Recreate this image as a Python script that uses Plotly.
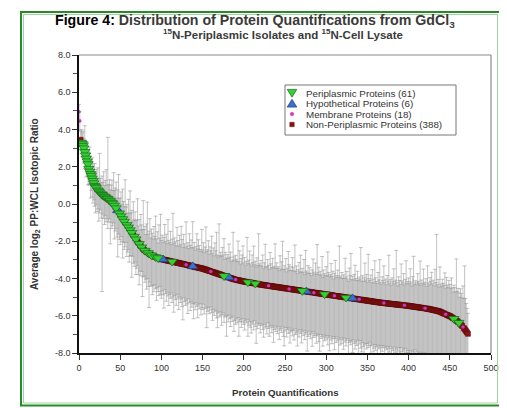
import plotly.graph_objects as go

# Average log2 PP:WCL ratio for each protein quantification, sorted descending (index = x)
ratio = [
    4.95, 4.45, 3.45, 3.30, 3.22, 3.12, 3.00, 2.80, 2.62, 2.45,
    2.30, 2.15, 1.90, 1.75, 1.62, 1.52, 1.38, 1.25, 1.12, 0.98,
    0.92, 0.86, 0.80, 0.74, 0.68, 0.62, 0.58, 0.54, 0.50, 0.46,
    0.43, 0.40, 0.37, 0.34, 0.31, 0.28, 0.24, 0.20, 0.16, 0.12,
    0.08, 0.03, -0.02, -0.08, -0.15, -0.22, -0.28, -0.34, -0.42, -0.50,
    -0.58, -0.65, -0.72, -0.80, -0.87, -0.94, -1.00, -1.06, -1.12, -1.18,
    -1.25, -1.32, -1.40, -1.47, -1.54, -1.61, -1.68, -1.75, -1.82, -1.89,
    -1.95, -2.02, -2.08, -2.14, -2.20, -2.26, -2.32, -2.37, -2.42, -2.47,
    -2.50, -2.54, -2.57, -2.60, -2.63, -2.66, -2.69, -2.72, -2.75, -2.77,
    -2.79, -2.81, -2.83, -2.85, -2.87, -2.89, -2.90, -2.92, -2.93, -2.95,
    -2.96, -2.97, -2.98, -2.99, -3.00, -3.01, -3.02, -3.03, -3.04, -3.05,
    -3.06, -3.07, -3.08, -3.09, -3.10, -3.11, -3.12, -3.13, -3.14, -3.15,
    -3.16, -3.17, -3.18, -3.19, -3.20, -3.21, -3.22, -3.23, -3.24, -3.25,
    -3.26, -3.27, -3.28, -3.29, -3.30, -3.32, -3.33, -3.34, -3.35, -3.36,
    -3.37, -3.38, -3.39, -3.40, -3.41, -3.42, -3.43, -3.44, -3.45, -3.46,
    -3.47, -3.48, -3.50, -3.51, -3.53, -3.54, -3.56, -3.57, -3.59, -3.60,
    -3.62, -3.63, -3.65, -3.66, -3.68, -3.69, -3.71, -3.72, -3.74, -3.75,
    -3.77, -3.78, -3.80, -3.81, -3.83, -3.84, -3.86, -3.87, -3.89, -3.90,
    -3.92, -3.93, -3.95, -3.96, -3.98, -3.99, -4.01, -4.02, -4.04, -4.05,
    -4.06, -4.07, -4.08, -4.09, -4.10, -4.11, -4.12, -4.13, -4.14, -4.15,
    -4.16, -4.17, -4.18, -4.18, -4.19, -4.20, -4.21, -4.22, -4.22, -4.23,
    -4.24, -4.25, -4.26, -4.26, -4.27, -4.28, -4.29, -4.30, -4.30, -4.31,
    -4.32, -4.33, -4.34, -4.34, -4.35, -4.36, -4.36, -4.37, -4.38, -4.38,
    -4.39, -4.40, -4.40, -4.41, -4.42, -4.42, -4.43, -4.44, -4.44, -4.45,
    -4.46, -4.46, -4.47, -4.48, -4.48, -4.49, -4.50, -4.50, -4.51, -4.52,
    -4.52, -4.53, -4.54, -4.54, -4.55, -4.56, -4.56, -4.57, -4.58, -4.58,
    -4.59, -4.60, -4.60, -4.61, -4.62, -4.62, -4.63, -4.64, -4.64, -4.65,
    -4.66, -4.66, -4.67, -4.68, -4.68, -4.69, -4.70, -4.70, -4.71, -4.72,
    -4.72, -4.73, -4.74, -4.74, -4.75, -4.76, -4.76, -4.77, -4.78, -4.78,
    -4.79, -4.80, -4.80, -4.81, -4.82, -4.82, -4.83, -4.84, -4.84, -4.85,
    -4.86, -4.86, -4.87, -4.88, -4.88, -4.89, -4.90, -4.90, -4.91, -4.92,
    -4.92, -4.93, -4.94, -4.94, -4.95, -4.96, -4.96, -4.97, -4.98, -4.98,
    -4.99, -5.00, -5.00, -5.01, -5.02, -5.02, -5.03, -5.04, -5.04, -5.05,
    -5.06, -5.06, -5.07, -5.08, -5.08, -5.09, -5.10, -5.10, -5.11, -5.12,
    -5.12, -5.13, -5.14, -5.14, -5.15, -5.16, -5.16, -5.17, -5.18, -5.18,
    -5.19, -5.20, -5.20, -5.21, -5.22, -5.22, -5.23, -5.24, -5.24, -5.25,
    -5.26, -5.26, -5.27, -5.28, -5.28, -5.29, -5.30, -5.30, -5.31, -5.31,
    -5.32, -5.32, -5.33, -5.33, -5.34, -5.34, -5.35, -5.35, -5.36, -5.36,
    -5.37, -5.37, -5.38, -5.38, -5.39, -5.39, -5.40, -5.40, -5.41, -5.41,
    -5.42, -5.42, -5.43, -5.43, -5.44, -5.44, -5.45, -5.45, -5.46, -5.46,
    -5.47, -5.48, -5.48, -5.49, -5.50, -5.50, -5.51, -5.52, -5.52, -5.53,
    -5.54, -5.54, -5.55, -5.56, -5.56, -5.57, -5.58, -5.58, -5.59, -5.60,
    -5.60, -5.61, -5.62, -5.62, -5.63, -5.64, -5.65, -5.66, -5.67, -5.68,
    -5.69, -5.70, -5.71, -5.72, -5.73, -5.74, -5.75, -5.76, -5.78, -5.80,
    -5.82, -5.84, -5.86, -5.88, -5.90, -5.92, -5.94, -5.96, -5.98, -6.00,
    -6.02, -6.04, -6.07, -6.10, -6.13, -6.16, -6.19, -6.22, -6.25, -6.29,
    -6.33, -6.37, -6.41, -6.45, -6.50, -6.55, -6.60, -6.66, -6.72, -6.78,
    -6.84, -6.90, -6.97,
]

# Upper error-bar lengths (one per quantification, same order)
err_plus = [
    0.40, 0.50, 0.45, 0.70, 0.60, 0.80, 0.50, 1.40, 0.70, 0.90,
    1.00, 0.60, 0.80, 1.30, 0.70, 0.50, 1.10, 0.90, 0.60, 1.20,
    0.80, 1.00, 0.55, 1.20, 0.70, 2.10, 0.80, 0.60, 1.00, 0.70,
    1.30, 0.60, 0.90, 1.50, 0.70, 3.30, 0.80, 1.10, 0.60, 0.90,
    1.20, 0.70, 1.70, 0.80, 1.00, 1.40, 0.60, 1.10, 2.00, 0.80,
    0.90, 1.30, 0.70, 1.60, 1.00, 0.80, 2.30, 0.90, 1.10, 0.70,
    1.50, 0.80, 2.10, 1.00, 1.20, 0.70, 1.80, 0.90, 1.40, 1.00,
    1.10, 2.30, 0.90, 1.30, 0.80, 1.70, 1.20, 1.00, 2.60, 1.10,
    1.30, 0.90, 1.50, 2.70, 1.00, 1.20, 1.90, 0.90, 1.40, 1.20,
    0.90, 1.60, 1.10, 2.20, 1.00, 1.40, 0.80, 1.80, 1.10, 2.40,
    1.00, 1.30, 0.90, 1.20, 1.90, 1.00, 1.40, 0.90, 2.20, 1.10,
    1.00, 1.60, 0.90, 1.20, 2.60, 1.00, 1.30, 1.10, 0.90, 1.90,
    1.20, 0.90, 1.50, 1.00, 2.00, 1.30, 0.90, 1.60, 1.10, 0.90,
    2.30, 1.00, 1.20, 0.90, 1.70, 1.10, 1.40, 1.00, 2.40, 1.00,
    1.30, 0.90, 1.10, 1.80, 1.00, 1.50, 1.20, 1.00, 0.90, 2.10,
    1.00, 1.40, 0.90, 1.20, 2.30, 1.00, 1.10, 1.60, 0.90, 1.30,
    1.10, 1.90, 1.00, 1.30, 0.90, 1.60, 1.20, 2.20, 1.00, 0.90,
    2.70, 1.00, 1.20, 1.00, 1.50, 1.10, 2.00, 0.90, 1.30, 1.00,
    1.20, 1.00, 1.80, 1.10, 1.40, 0.90, 1.00, 2.50, 1.20, 1.00,
    1.30, 1.10, 1.00, 2.10, 1.00, 1.60, 0.90, 1.20, 1.40, 1.90,
    1.00, 1.30, 0.90, 1.10, 2.40, 1.00, 1.20, 1.70, 1.00, 0.90,
    1.50, 1.10, 2.00, 1.00, 1.20, 0.90, 1.40, 1.00, 2.70, 1.10,
    1.00, 1.30, 1.00, 1.60, 0.90, 1.20, 2.20, 1.00, 1.00, 1.40,
    1.10, 0.90, 1.80, 1.20, 1.00, 1.50, 1.00, 1.10, 2.30, 1.00,
    1.30, 1.00, 1.10, 0.90, 1.70, 1.00, 1.40, 2.50, 1.00, 1.20,
    1.00, 1.60, 0.90, 1.10, 2.00, 1.30, 1.00, 1.20, 1.00, 1.70,
    1.20, 1.00, 2.40, 1.00, 1.30, 0.90, 1.10, 1.50, 1.00, 1.90,
    1.00, 1.20, 1.00, 1.70, 0.90, 2.20, 1.10, 1.00, 1.40, 1.00,
    1.30, 1.00, 0.90, 1.20, 1.80, 1.10, 1.00, 1.60, 1.00, 2.60,
    1.10, 1.40, 1.00, 1.20, 1.00, 2.00, 0.90, 1.30, 1.10, 1.00,
    1.50, 1.00, 2.30, 1.20, 1.00, 1.10, 1.70, 1.00, 1.30, 0.90,
    1.20, 1.90, 1.00, 1.10, 1.40, 1.00, 2.70, 1.10, 1.00, 1.30,
    1.00, 1.20, 1.00, 2.10, 1.10, 1.40, 1.00, 0.90, 1.60, 1.20,
    2.40, 1.00, 1.20, 1.00, 1.30, 1.80, 1.10, 1.00, 1.50, 1.00,
    1.20, 1.10, 2.80, 1.00, 1.30, 1.00, 1.20, 2.00, 1.10, 1.40,
    1.00, 2.50, 1.20, 1.10, 1.40, 1.00, 1.70, 1.20, 1.00, 2.20,
    1.30, 1.10, 1.00, 1.60, 1.20, 2.30, 1.10, 1.00, 1.40, 1.20,
    2.00, 1.10, 1.30, 1.00, 1.50, 1.20, 2.60, 1.10, 1.30, 1.00,
    1.40, 1.20, 1.90, 1.10, 1.30, 2.90, 1.20, 1.00, 1.50, 1.30,
    1.10, 2.20, 1.30, 1.20, 1.70, 1.10, 1.40, 2.40, 1.20, 1.30,
    1.50, 1.20, 2.00, 1.30, 1.10, 1.60, 2.70, 1.20, 1.40, 1.30,
    1.20, 1.80, 1.40, 1.30, 2.50, 1.20, 1.50, 1.30, 2.10, 1.40,
    1.30, 1.60, 1.20, 2.30, 1.40, 1.30, 1.70, 1.50, 2.00, 1.40,
    1.60, 1.30, 2.20, 1.50, 4.10, 1.40, 1.70, 1.30, 2.40, 1.50,
    1.40, 1.80, 1.60, 1.50, 2.20, 1.40, 2.00, 1.60, 1.50, 1.90,
    1.70, 1.50, 2.10, 1.60, 1.40, 1.80, 1.70, 1.50, 3.30, 1.60,
    1.80, 1.60, 1.40, 1.90, 1.70, 1.50, 2.20, 1.60, 3.40, 1.70,
    1.50, 1.30, 1.10,
]

# Lower error-bar lengths (one per quantification, same order)
err_minus = [
    0.40, 0.50, 0.50, 0.60, 0.70, 0.60, 0.80, 0.90, 0.70, 1.00,
    0.80, 1.10, 0.90, 0.70, 1.30, 0.80, 1.00, 1.20, 0.90, 1.10,
    1.40, 0.90, 1.20, 1.00, 1.60, 1.10, 0.90, 1.30, 5.20, 1.00,
    1.20, 1.50, 1.00, 1.30, 1.10, 1.60, 1.20, 1.00, 2.30, 1.10,
    1.40, 1.20, 1.00, 1.80, 1.30, 1.10, 1.50, 2.50, 1.20, 1.40,
    1.60, 1.10, 1.30, 2.10, 1.20, 1.50, 1.30, 1.00, 1.70, 1.40,
    1.20, 1.80, 1.40, 1.30, 2.40, 1.20, 1.50, 1.60, 1.30, 1.90,
    1.50, 1.30, 1.70, 2.20, 1.40, 1.60, 1.30, 2.60, 1.50, 1.40,
    1.70, 1.50, 2.00, 1.40, 1.80, 2.90, 1.50, 1.70, 1.60, 2.10,
    1.60, 1.90, 1.50, 1.70, 2.30, 1.60, 1.80, 2.00, 1.50, 1.90,
    2.10, 1.70, 1.90, 2.60, 1.60, 1.80, 2.20, 1.70, 1.90, 2.40,
    1.80, 2.00, 1.70, 2.20, 1.90, 2.70, 1.80, 2.00, 2.30, 1.70,
    1.90, 2.50, 1.80, 2.10, 1.90, 2.30, 3.00, 1.80, 2.00, 2.20,
    1.90, 2.10, 2.60, 1.80, 2.00, 2.40, 1.90, 2.20, 2.00, 2.80,
    2.00, 2.30, 1.90, 2.10, 2.70, 2.00, 2.20, 1.90, 2.50, 2.10,
    2.20, 1.90, 2.40, 2.10, 2.00, 3.10, 2.20, 2.00, 2.30, 2.10,
    1.90, 2.20, 2.60, 2.00, 2.30, 2.10, 2.00, 2.40, 2.90, 2.10,
    2.30, 2.00, 2.20, 2.70, 2.10, 2.00, 2.50, 2.20, 2.10, 3.20,
    2.10, 2.40, 2.00, 2.20, 2.60, 2.10, 2.30, 2.00, 2.80, 2.20,
    2.40, 2.10, 2.30, 2.00, 3.00, 2.20, 2.10, 2.50, 2.20, 2.00,
    2.30, 2.60, 2.10, 2.20, 2.00, 2.90, 2.30, 2.10, 2.40, 2.70,
    2.10, 2.20, 2.50, 2.00, 2.30, 3.20, 2.10, 2.40, 2.20, 2.10,
    2.60, 2.20, 2.10, 2.40, 2.80, 2.10, 2.30, 2.20, 2.60, 2.00,
    2.30, 2.70, 2.20, 2.10, 2.50, 2.20, 3.00, 2.30, 2.10, 2.40,
    2.20, 2.50, 2.10, 2.80, 2.30, 2.20, 2.40, 2.10, 2.60, 3.10,
    2.30, 2.10, 2.60, 2.20, 2.40, 2.10, 2.90, 2.30, 2.20, 2.50,
    2.20, 2.70, 2.10, 2.40, 2.30, 3.00, 2.20, 2.50, 2.10, 2.30,
    2.80, 2.20, 2.40, 2.10, 2.60, 2.30, 2.20, 3.20, 2.40, 2.10,
    2.30, 2.50, 2.20, 2.90, 2.10, 2.40, 2.30, 2.20, 2.70, 2.30,
    2.20, 2.60, 3.10, 2.20, 2.40, 2.30, 2.80, 2.20, 2.50, 2.30,
    2.40, 2.20, 2.70, 2.30, 3.00, 2.20, 2.40, 2.60, 2.30, 2.20,
    2.90, 2.30, 2.50, 2.20, 2.40, 3.20, 2.30, 2.60, 2.20, 2.50,
    2.30, 2.80, 2.20, 2.40, 2.60, 2.30, 2.20, 3.10, 2.40, 2.30,
    2.50, 2.30, 2.90, 2.20, 2.40, 2.70, 2.30, 2.50, 2.20, 3.00,
    2.40, 2.20, 2.60, 2.80, 2.30, 2.50, 3.20, 2.40, 2.30, 2.60,
    2.30, 2.50, 2.40, 2.20, 3.00, 2.40, 2.30, 2.70, 2.50, 2.30,
    2.60, 2.40, 3.10, 2.30, 2.50, 2.40, 2.80, 2.30, 2.60, 2.40,
    2.30, 2.90, 2.40, 2.50, 2.30, 3.20, 2.40, 2.60, 2.30, 2.70,
    2.40, 2.50, 2.80, 2.30, 2.60, 2.40, 3.00, 2.50, 2.30, 2.60,
    2.70, 2.30, 2.50, 3.10, 2.40, 2.60, 2.30, 2.80, 2.50, 2.40,
    2.50, 2.90, 2.40, 2.60, 3.20, 2.40, 2.50, 2.70, 2.30, 2.60,
    2.40, 2.60, 3.00, 2.50, 2.40, 2.70, 2.50, 3.10, 2.40, 2.60,
    2.50, 2.40, 2.80, 2.60, 3.00, 2.40, 2.50, 2.90, 2.60, 2.40,
    2.70, 2.50, 2.40, 3.10, 2.60, 2.50, 2.80, 2.40, 2.60, 2.50,
    2.60, 2.40, 2.90, 2.50, 2.70, 3.00, 2.40, 2.60, 2.50, 2.80,
    2.50, 2.70, 2.40, 2.60, 2.90, 2.50, 2.40, 2.70, 2.60, 2.50,
    2.60, 2.40, 2.80, 2.50, 2.30, 2.60, 2.20, 2.40, 2.10, 2.30,
    2.00, 1.80, 1.50,
]

# Indices (positions along x) of each protein class
periplasmic_idx = [3, 4, 5, 6, 7, 8, 9, 10, 11, 12, 13, 14, 15, 16, 17, 18, 19, 20, 21,
                   23, 24, 25, 27, 28, 29, 31, 32, 34, 35, 37, 38, 40, 41, 43, 45,
                   49, 51, 53, 55, 58, 60, 62, 64, 67, 69, 73, 76, 80, 84, 88, 93, 96,
                   113, 176, 205, 214, 271, 298, 324, 455, 461]
hypothetical_idx = [47, 102, 138, 182, 276, 332]
membrane_idx = [0, 1, 26, 57, 97, 130, 160, 190, 230, 255, 285, 310, 340, 370, 395, 420, 445, 466]

series_names = ["Periplasmic Proteins (61)", "Hypothetical Proteins (6)",
                "Membrane Proteins (18)", "Non-Periplasmic Proteins (388)"]
series_colors = ["#33d133", "#3a70d0", "#c03cc0", "#8b1414"]
series_edges = ["#1a6a1a", "#1d3c80", "#c03cc0", "#5a0a0a"]

x_ticks = [0, 50, 100, 150, 200, 250, 300, 350, 400, 450, 500]
y_ticks = [8, 6, 4, 2, 0, -2, -4, -6, -8]
y_tick_labels = ["8.0", "6.0", "4.0", "2.0", "0.0", "-2.0", "-4.0", "-6.0", "-8.0"]

n = len(ratio)
xs = list(range(n))
special = set(periplasmic_idx) | set(hypothetical_idx) | set(membrane_idx)
nonperi_idx = [i for i in xs if i not in special]

FONT = "Liberation Sans, Arial, sans-serif"

# page body has an 8px margin: figure is 8px smaller and every target
# position (given in window pixels) is shifted by that offset
OFF = 8
W, H = 507 - OFF, 408 - OFF
PL, PR, PT, PB = 79, 491, 55, 353          # plot area in window pixels
L, R, T, B = PL - OFF, W - (PR - OFF), PT - OFF, H - (PB - OFF)
pw, ph = PR - PL, PB - PT


def px2x(p):
    return (p - PL) / pw


def py2y(p):
    return (PB - p) / ph


fig = go.Figure()

# error bars for all quantifications (drawn beneath every marker)
fig.add_trace(go.Scatter(
    x=xs, y=ratio, mode="markers",
    marker=dict(size=1, opacity=0),
    error_y=dict(type="data", array=err_plus, arrayminus=err_minus,
                 symmetric=False, color="#9a9a9a", thickness=0.6, width=2),
    showlegend=False, hoverinfo="skip",
))


def sub(idx):
    return list(idx), [ratio[i] for i in idx]


xn, yn = sub(nonperi_idx)
fig.add_trace(go.Scatter(
    x=xn, y=yn, mode="markers", name=series_names[3], showlegend=False,
    marker=dict(symbol="square", size=5, color=series_colors[3],
                line=dict(color=series_edges[3], width=0.5)),
))
xm, ym = sub(membrane_idx)
fig.add_trace(go.Scatter(
    x=xm, y=ym, mode="markers", name=series_names[2], showlegend=False,
    marker=dict(symbol="circle", size=3.5, color=series_colors[2], line=dict(width=0)),
))
xh, yh = sub(hypothetical_idx)
fig.add_trace(go.Scatter(
    x=xh, y=yh, mode="markers", name=series_names[1], showlegend=False,
    marker=dict(symbol="triangle-up", size=9, color=series_colors[1],
                line=dict(color=series_edges[1], width=0.7)),
))
xp, yp = sub(periplasmic_idx)
fig.add_trace(go.Scatter(
    x=xp, y=yp, mode="markers", name=series_names[0], showlegend=False,
    marker=dict(symbol="triangle-down", size=9, color=series_colors[0],
                line=dict(color=series_edges[0], width=0.7)),
))

fig.update_layout(
    width=W, height=H,
    margin=dict(l=L, r=R, t=T, b=B, autoexpand=False),
    paper_bgcolor="white", plot_bgcolor="white",
    font=dict(family=FONT, color="#333333"),
    xaxis=dict(
        range=[0, 500], tickvals=x_ticks, ticks="outside", ticklen=5,
        tickwidth=1, tickcolor="#333", showline=True, linecolor="#111",
        linewidth=1.5, showgrid=False, zeroline=False,
        tickfont=dict(size=9, family=FONT, color="#333"),
    ),
    yaxis=dict(
        range=[-8, 8], tickvals=y_ticks, ticktext=y_tick_labels,
        ticks="outside", ticklen=5, tickwidth=1, tickcolor="#333",
        minor=dict(tickvals=[7, 5, 3, 1, -1, -3, -5, -7], ticks="outside",
                   ticklen=4, tickcolor="#555"),
        showline=True, linecolor="#111", linewidth=1.5, showgrid=False,
        zeroline=False, tickfont=dict(size=9, family=FONT, color="#333"),
    ),
    showlegend=False,
)

# title (two centred lines)
fig.add_annotation(
    text=("<b><span style='color:#000'>Figure 4:</span> Distribution of Protein "
          "Quantifications from GdCl<sub>3</sub></b>"),
    xref="paper", yref="paper", x=px2x(255), y=py2y(20.5),
    xanchor="center", yanchor="middle", showarrow=False,
    font=dict(size=14.2, family=FONT, color="#3a3a3a"))
fig.add_annotation(
    text="<b><sup>15</sup>N-Periplasmic Isolates and <sup>15</sup>N-Cell Lysate</b>",
    xref="paper", yref="paper", x=px2x(282.5), y=py2y(34),
    xanchor="center", yanchor="middle", showarrow=False,
    font=dict(size=11.5, family=FONT, color="#3a3a3a"))

# axis labels
fig.add_annotation(text="<b>Protein Quantifications</b>", xref="paper", yref="paper",
                   x=px2x(285), y=py2y(392), xanchor="center", yanchor="middle",
                   showarrow=False, font=dict(size=9.7, family=FONT, color="#333"))
fig.add_annotation(text="<b>Average log<sub>2</sub> PP:WCL Isotopic Ratio</b>",
                   xref="paper", yref="paper", x=px2x(35), y=0.5, textangle=-90,
                   xanchor="center", yanchor="middle", showarrow=False,
                   font=dict(size=10, family=FONT, color="#333"))

# gray top/right plot frame
fig.add_shape(type="line", xref="paper", yref="paper", x0=0, x1=1, y0=1, y1=1,
              line=dict(color="#8a8a8a", width=1.2))
fig.add_shape(type="line", xref="paper", yref="paper", x0=1, x1=1, y0=0, y1=1,
              line=dict(color="#8a8a8a", width=1.2))

# legend box (compact, as in the reference)
LX0, LX1, LY0, LY1 = 285, 456, 85, 135
fig.add_shape(type="rect", xref="paper", yref="paper",
              x0=px2x(LX0), x1=px2x(LX1), y0=py2y(LY1), y1=py2y(LY0),
              line=dict(color="#777", width=1), fillcolor="white", layer="above")
row_y = [93, 103.5, 114, 124.5]
sx = 292
for k in range(4):
    yc = row_y[k]
    if k == 0:
        pts = [(sx - 4.8, yc - 3.6), (sx + 4.8, yc - 3.6), (sx, yc + 4.2)]
    elif k == 1:
        pts = [(sx - 4.8, yc + 3.6), (sx + 4.8, yc + 3.6), (sx, yc - 4.2)]
    if k < 2:
        path = "M " + " L ".join(f"{px2x(a):.5f},{py2y(b):.5f}" for a, b in pts) + " Z"
        fig.add_shape(type="path", xref="paper", yref="paper", path=path,
                      fillcolor=series_colors[k], layer="above",
                      line=dict(color=series_edges[k], width=0.7))
    elif k == 2:
        fig.add_shape(type="circle", xref="paper", yref="paper",
                      x0=px2x(sx - 1.8), x1=px2x(sx + 1.8),
                      y0=py2y(yc + 1.8), y1=py2y(yc - 1.8),
                      fillcolor=series_colors[k], layer="above",
                      line=dict(color=series_edges[k], width=0.5))
    else:
        fig.add_shape(type="rect", xref="paper", yref="paper",
                      x0=px2x(sx - 2.2), x1=px2x(sx + 2.2),
                      y0=py2y(yc + 2.2), y1=py2y(yc - 2.2),
                      fillcolor=series_colors[k], layer="above",
                      line=dict(color=series_edges[k], width=0.5))
    fig.add_annotation(text=series_names[k], xref="paper", yref="paper",
                       x=px2x(304), y=py2y(yc), xanchor="left", yanchor="middle",
                       showarrow=False,
                       font=dict(size=9.8, family=FONT, color="#333"))

# green outer frame
fig.add_shape(type="rect", xref="paper", yref="paper",
              x0=px2x(21), x1=px2x(500), y0=py2y(405.5), y1=py2y(12),
              line=dict(color="#2a8a2a", width=2), layer="above")
fig.add_shape(type="rect", xref="paper", yref="paper",
              x0=px2x(23.5), x1=px2x(497.5), y0=py2y(403), y1=py2y(14.5),
              line=dict(color="#9fd49f", width=1), layer="above")

fig.write_html("out.html")
